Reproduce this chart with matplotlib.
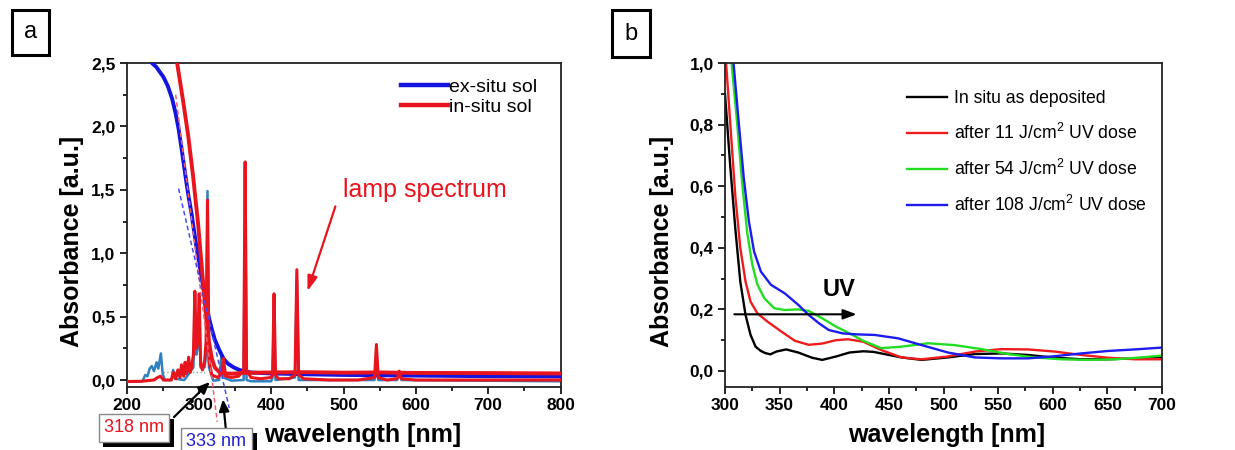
import matplotlib
matplotlib.use("Agg")
import matplotlib.pyplot as plt
import matplotlib.patheffects as pe
from matplotlib.ticker import MultipleLocator, FuncFormatter
from matplotlib.patches import Rectangle

plt.rcParams["font.family"] = ["Liberation Sans", "DejaVu Sans"]
plt.rcParams["mathtext.fontset"] = "custom"
plt.rcParams["mathtext.rm"] = "Liberation Sans"
plt.rcParams["mathtext.it"] = "Liberation Sans:italic"
plt.rcParams["mathtext.bf"] = "Liberation Sans:bold"

# ---------------- panel a: sol absorbance + lamp spectrum ----------------
exsitu_nm = [225, 235, 241, 251, 257, 263, 268, 272, 276, 279, 283, 286, 290, 293,
             297, 302, 306, 310, 314, 318, 322, 328, 334, 340, 348, 356, 364, 375,
             400, 450, 500, 600, 700, 800]
exsitu_abs = [2.60, 2.50, 2.47, 2.39, 2.32, 2.22, 2.10, 1.98, 1.83, 1.71, 1.55, 1.44,
              1.31, 1.19, 1.04, 0.87, 0.74, 0.61, 0.49, 0.40, 0.32, 0.24, 0.17, 0.13,
              0.10, 0.08, 0.066, 0.058, 0.052, 0.045, 0.040, 0.035, 0.030, 0.028]

insitu_nm = [266, 270, 278, 285, 292, 299, 306, 310, 314, 318, 322, 328, 335, 345,
             360, 400, 450, 500, 550, 600, 700, 800]
insitu_abs = [2.70, 2.50, 2.21, 1.94, 1.61, 1.23, 0.76, 0.50, 0.30, 0.17, 0.10, 0.065,
              0.052, 0.050, 0.056, 0.060, 0.062, 0.058, 0.060, 0.056, 0.055, 0.052]

lamp_red_nm = [200, 220, 238, 243, 247, 251, 262, 265, 268, 271, 274, 276, 279, 281,
               283, 286, 288, 290, 292.5, 294.5, 296.5, 298.5, 300.5, 302.5, 305, 308,
               310, 312, 314, 318, 326, 331, 334, 337, 345, 355, 362, 364, 366, 372,
               385, 400, 402, 404, 406, 410, 425, 433, 435.5, 438, 445, 480, 520, 543,
               545.5, 548, 560, 574, 577, 580, 600, 700, 800]
lamp_red_abs = [-0.012, -0.010, 0.0, 0.02, 0.03, 0.0, 0.0, 0.06, 0.01, 0.08, 0.02, 0.12,
                0.03, 0.14, 0.05, 0.18, 0.06, 0.10, 0.20, 0.70, 0.25, 0.30, 0.68, 0.12,
                0.08, 0.15, 0.30, 1.42, 0.15, 0.04, 0.02, 0.05, 0.17, 0.03, 0.02, 0.03,
                0.08, 1.72, 0.08, 0.02, 0.01, 0.02, 0.05, 0.68, 0.04, 0.01, 0.01, 0.04,
                0.87, 0.04, 0.01, 0.0, 0.0, 0.02, 0.28, 0.02, 0.0, 0.01, 0.07, 0.01,
                0.0, 0.0, 0.0]

lamp_blue_nm = [200, 222, 226, 229, 232, 235, 238, 241.5, 244, 247.5, 250, 253, 262,
                264.5, 267, 280, 292.5, 294.5, 296.5, 298.5, 300.5, 302.5, 308, 310,
                312, 314, 320, 328, 331, 334, 345, 362, 364, 366, 372, 400, 402, 404,
                406, 433, 435.5, 438, 543, 545.5, 548, 574, 577, 580, 800]
lamp_blue_abs = [-0.012, -0.01, 0.04, 0.03, 0.09, 0.11, 0.07, 0.14, 0.09, 0.21, 0.05,
                 0.0, 0.0, 0.08, 0.01, 0.0, 0.1, 0.6, 0.2, 0.25, 0.6, 0.1, 0.1, 0.2,
                 1.49, 0.1, -0.005, 0.0, 0.18, 0.02, -0.005, 0.0, 1.65, 0.0, -0.01,
                 -0.01, 0.02, 0.6, 0.0, 0.02, 0.8, 0.0, 0.0, 0.25, 0.0, 0.0, 0.05, 0.0,
                 -0.01]

# linear extrapolations of the absorption edges
edge_red_nm = [268, 325.5]
edge_red_abs = [2.25, -0.33]
edge_blue_nm = [272, 342]
edge_blue_abs = [1.51, -0.22]
baseline_nm = [250, 310]
baseline_abs = [0.062, 0.062]

edge_red_value = 318
edge_blue_value = 333

# ---------------- panel b: films under UV ----------------
deposited_nm = [300, 304.7, 309.4, 314, 318.8, 323.4, 328, 332.8, 337, 341.6, 346.9,
                356, 367, 379.7, 389, 401.6, 414, 426.6, 436, 443, 461.6, 480, 504,
                528.7, 553, 577.5, 602, 626, 650.6, 675, 700]
deposited_abs = [0.90, 0.67, 0.464, 0.29, 0.182, 0.117, 0.079, 0.065, 0.058, 0.054,
                 0.063, 0.070, 0.060, 0.043, 0.036, 0.047, 0.060, 0.064, 0.062, 0.057,
                 0.044, 0.036, 0.044, 0.055, 0.057, 0.052, 0.043, 0.038, 0.038, 0.041,
                 0.046]

dose11_nm = [301, 304.7, 309.4, 314, 318.8, 323.4, 329.7, 339, 351.6, 364, 376.6, 389,
             401.6, 412.5, 426.6, 443, 461.6, 480, 504, 528.7, 553, 577.5, 602, 626,
             650.6, 675, 700]
dose11_abs = [1.0, 0.81, 0.57, 0.40, 0.29, 0.225, 0.187, 0.16, 0.128, 0.098, 0.085,
              0.089, 0.100, 0.103, 0.095, 0.068, 0.044, 0.038, 0.047, 0.063, 0.071,
              0.070, 0.063, 0.052, 0.043, 0.038, 0.038]

dose54_nm = [306, 311, 315.6, 320.3, 325, 329.7, 336, 345, 354.7, 367, 376.6, 389,
             401.6, 414, 426.6, 443, 461.6, 486, 510, 534.8, 559, 583.5, 608, 632,
             656.7, 681, 700]
dose54_abs = [1.0, 0.81, 0.615, 0.45, 0.345, 0.28, 0.236, 0.204, 0.198, 0.200, 0.195,
              0.171, 0.144, 0.122, 0.098, 0.074, 0.079, 0.090, 0.084, 0.071, 0.055,
              0.044, 0.038, 0.036, 0.038, 0.044, 0.050]

dose108_nm = [307.8, 312.5, 317.2, 321.9, 326.6, 332.8, 342, 354.7, 367, 376.6, 386,
              395, 407.8, 420, 437, 458.5, 480, 504, 528.7, 553, 577.5, 602, 626,
              650.6, 675, 700]
dose108_abs = [1.0, 0.81, 0.626, 0.485, 0.388, 0.323, 0.28, 0.252, 0.215, 0.182,
               0.155, 0.133, 0.122, 0.119, 0.117, 0.106, 0.084, 0.060, 0.044, 0.041,
               0.041, 0.048, 0.057, 0.065, 0.070, 0.076]

uv_arrow_nm = [306, 423]
uv_arrow_abs = 0.184

RED = "#e8141e"
BLUE = "#1414e0"
STEEL = "#2f80c0"

W, H = 1235, 450
fig = plt.figure(figsize=(W / 100, H / 100), dpi=100)
fig.patch.set_facecolor("white")


def fx(px):
    return px / W


def fy(py):
    return 1 - py / H


comma = FuncFormatter(lambda v, p: f"{v:.1f}".replace(".", ","))
intfmt = FuncFormatter(lambda v, p: f"{v:.0f}")


def style_axes(ax):
    for s in ax.spines.values():
        s.set_linewidth(1.3)
        s.set_color("#222222")
    ax.tick_params(which="both", direction="out", top=False, right=False,
                   labelsize=12.5, width=1.2, pad=3)
    ax.tick_params(which="major", length=5)
    ax.tick_params(which="minor", length=3)
    for lab in ax.get_xticklabels() + ax.get_yticklabels():
        lab.set_fontweight("bold")


# ---- panel a ----
axa = fig.add_axes([fx(126.5), fy(387), fx(560.5) - fx(126.5), fy(63) - fy(387)])
axa.plot(lamp_blue_nm, lamp_blue_abs, color=STEEL, lw=1.8, zorder=2)
axa.plot(exsitu_nm, exsitu_abs, color=BLUE, lw=2.8, zorder=3, label="ex-situ sol")
axa.plot(lamp_red_nm, lamp_red_abs, color=RED, lw=2.2, zorder=4)
axa.plot(insitu_nm, insitu_abs, color=RED, lw=2.8, zorder=5, label="in-situ sol")
axa.plot(baseline_nm, baseline_abs, color="#88b888", lw=1, ls=":", zorder=1)
axa.plot(edge_red_nm, edge_red_abs, color="#f06070", lw=1.1, ls=(0, (3, 2)),
         zorder=6, clip_on=False)
axa.plot(edge_blue_nm, edge_blue_abs, color="#4a4af0", lw=1.1, ls=(0, (3, 2)),
         zorder=6, clip_on=False)
axa.set_xlim(200, 800)
axa.set_ylim(-0.055, 2.5)
axa.xaxis.set_major_locator(MultipleLocator(100))
axa.xaxis.set_minor_locator(MultipleLocator(50))
axa.yaxis.set_major_locator(MultipleLocator(0.5))
axa.yaxis.set_minor_locator(MultipleLocator(0.25))
axa.yaxis.set_major_formatter(comma)
axa.xaxis.set_major_formatter(intfmt)
style_axes(axa)
axa.set_ylabel("Absorbance [a.u.]", fontsize=18, fontweight="bold")
axa.set_xlabel("wavelength [nm]", fontsize=18, fontweight="bold")
axa.yaxis.set_label_coords(-0.098, 0.45)
axa.xaxis.set_label_coords(0.545, -0.112)
leg = axa.legend(loc="upper right", bbox_to_anchor=(0.972, 0.99), frameon=False,
                 fontsize=14, handlelength=2.4, handletextpad=0.05,
                 labelspacing=0.15, borderaxespad=0.2)
for ln in leg.get_lines():
    ln.set_linewidth(3.2)

axa.text(612, 1.5, "lamp spectrum", color=RED, fontsize=18, ha="center", va="center")
axa.annotate("", xy=(449, 0.68), xytext=(490, 1.39),
             arrowprops=dict(arrowstyle="-|>,head_length=0.9,head_width=0.3",
                             color=RED, lw=1.6))

shadow = [pe.SimplePatchShadow(offset=(3.5, -3.5), shadow_rgbFace="black", alpha=1.0),
          pe.Normal()]
t1 = fig.text(fx(134), fy(428), f"{edge_red_value} nm", color=RED, fontsize=13,
              ha="center", va="center",
              bbox=dict(boxstyle="square,pad=0.3", fc="white", ec="#888888", lw=1))
t1.get_bbox_patch().set_path_effects(shadow)
t2 = fig.text(fx(216.5), fy(442), f"{edge_blue_value} nm", color="#2020d0",
              fontsize=13, ha="center", va="center",
              bbox=dict(boxstyle="square,pad=0.3", fc="white", ec="#888888", lw=1))
t2.get_bbox_patch().set_path_effects(shadow)
axa.annotate("", xy=(edge_red_value, 0.0), xycoords="data",
             xytext=(fx(172), fy(419)), textcoords="figure fraction",
             arrowprops=dict(arrowstyle="-|>,head_length=0.7,head_width=0.3",
                             color="black", lw=1.6), annotation_clip=False)
axa.annotate("", xy=(edge_blue_value, -0.13), xycoords="data",
             xytext=(fx(226), fy(431)), textcoords="figure fraction",
             arrowprops=dict(arrowstyle="-|>,head_length=0.7,head_width=0.3",
                             color="black", lw=1.6), annotation_clip=False)

# ---- panel b ----
axb = fig.add_axes([fx(725), fy(387), fx(1162) - fx(725), fy(63) - fy(387)])
axb.plot(deposited_nm, deposited_abs, color="black", lw=1.7, label="In situ as deposited")
axb.plot(dose11_nm, dose11_abs, color="#ee1c1c", lw=1.7,
         label="after 11 J/cm$^{2}$ UV dose")
axb.plot(dose54_nm, dose54_abs, color="#22dd22", lw=1.7,
         label="after 54 J/cm$^{2}$ UV dose")
axb.plot(dose108_nm, dose108_abs, color="#1c1cee", lw=1.7,
         label="after 108 J/cm$^{2}$ UV dose")
axb.set_xlim(300, 700)
axb.set_ylim(-0.052, 1.0)
axb.xaxis.set_major_locator(MultipleLocator(50))
axb.xaxis.set_minor_locator(MultipleLocator(25))
axb.yaxis.set_major_locator(MultipleLocator(0.2))
axb.yaxis.set_minor_locator(MultipleLocator(0.1))
axb.yaxis.set_major_formatter(comma)
axb.xaxis.set_major_formatter(intfmt)
style_axes(axb)
axb.set_ylabel("Absorbance [a.u.]", fontsize=18, fontweight="bold")
axb.set_xlabel("wavelength [nm]", fontsize=18, fontweight="bold")
axb.yaxis.set_label_coords(-0.116, 0.45)
axb.xaxis.set_label_coords(0.508, -0.112)
axb.legend(loc="upper right", bbox_to_anchor=(0.99, 0.95), frameon=False,
           fontsize=12.7, handlelength=2.3, handletextpad=0.4, labelspacing=0.9,
           borderaxespad=0.2)
axb.annotate("", xy=(uv_arrow_nm[1], uv_arrow_abs), xytext=(uv_arrow_nm[0], uv_arrow_abs),
             arrowprops=dict(arrowstyle="-|>,head_length=0.8,head_width=0.3",
                             color="black", lw=1.5))
axb.text(404, 0.265, "UV", fontsize=17, fontweight="bold", ha="center", va="center")

# ---- panel letters ----
for (x0, y0, x1, y1, letter) in [(12, 10, 49, 55, "a"), (612, 10, 650, 57, "b")]:
    fig.patches.append(Rectangle((fx(x0), fy(y1)), fx(x1) - fx(x0), fy(y0) - fy(y1),
                                 transform=fig.transFigure, fill=False, ec="black",
                                 lw=2.2))
    fig.text(fx((x0 + x1) / 2), fy((y0 + y1) / 2), letter, fontsize=17,
             ha="center", va="center")

fig.savefig("out.png", dpi=100, facecolor="white")
